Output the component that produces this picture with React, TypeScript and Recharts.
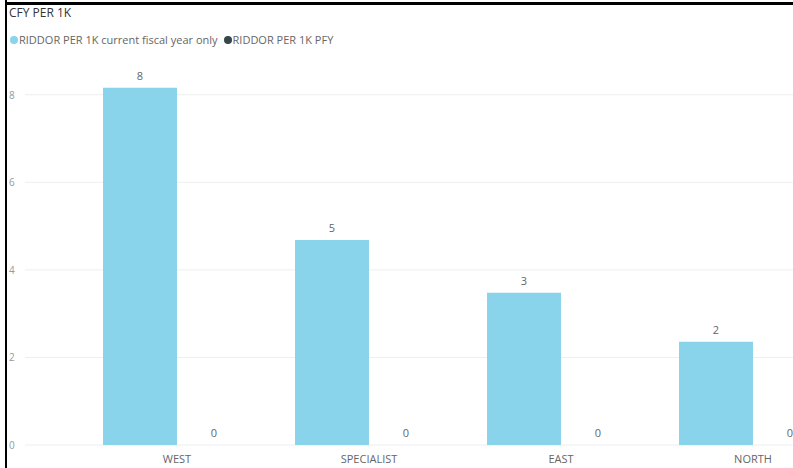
import { BarChart, Bar, XAxis, YAxis, CartesianGrid, Legend, LabelList } from 'recharts';

const regions = ['WEST', 'SPECIALIST', 'EAST', 'NORTH'];
const currentYear = [8.16, 4.68, 3.48, 2.36];
const priorYear = [0, 0, 0, 0];
const yTicks = [0, 2, 4, 6, 8];

const data = regions.map((region, i) => ({
  region,
  cfy: currentYear[i],
  pfy: priorYear[i],
}));

const font = '"Open Sans", "DejaVu Sans", sans-serif';

const YTick = (props: any) => {
  const { y, payload } = props;
  return (
    <text x={9} y={y} dy={4} fill="#999" fontSize={10} fontFamily={font}>
      {payload.value}
    </text>
  );
};

const LegendContent = (props: any) => {
  const items = [...(props.payload || [])].sort(
    (a: any, b: any) => (a.dataKey === 'cfy' ? 0 : 1) - (b.dataKey === 'cfy' ? 0 : 1)
  );
  return (
    <div style={{ display: 'flex', alignItems: 'center', fontSize: 11, color: '#666', fontFamily: font }}>
      {items.map((item: any) => (
        <span key={item.value} style={{ display: 'flex', alignItems: 'center', marginRight: 6 }}>
          <span
            style={{
              width: 8,
              height: 8,
              borderRadius: 4,
              background: item.color,
              marginRight: 1,
              display: 'inline-block',
            }}
          />
          {item.value}
        </span>
      ))}
    </div>
  );
};

const roundLabel = (v: any) => Math.round(Number(v));

export default function App() {
  return (
    <div
      style={{
        position: 'absolute',
        left: 0,
        top: 0,
        width: 793,
        height: 468,
        overflow: 'hidden',
        background: '#fff',
        fontFamily: font,
      }}
    >
      <div style={{ position: 'absolute', left: 5, top: 0, width: 2, height: 468, background: '#000', zIndex: 3 }} />
      <div style={{ position: 'absolute', left: 5, top: 2, width: 788, height: 3, background: '#000', zIndex: 3 }} />
      <div
        style={{
          position: 'absolute',
          left: 9,
          top: 4,
          fontSize: 12,
          color: '#333',
          zIndex: 2,
        }}
      >
        CFY PER 1K
      </div>
      <BarChart
        width={849}
        height={468}
        data={data}
        margin={{ top: 36, right: 0, bottom: 0, left: 0 }}
        barCategoryGap={22}
        barGap={0}
      >
        <CartesianGrid vertical={false} stroke="#eeeeee" horizontalValues={yTicks} />
        <XAxis
          dataKey="region"
          padding={{ left: 56, right: 0 }}
          axisLine={false}
          tickLine={false}
          tick={{ fill: '#666', fontSize: 11, fontFamily: font }}
          tickMargin={4}
          height={23}
        />
        <YAxis
          width={25}
          domain={[0, 9]}
          ticks={yTicks}
          axisLine={false}
          tickLine={false}
          tick={<YTick />}
        />
        <Legend
          verticalAlign="top"
          align="left"
          content={<LegendContent />}
          wrapperStyle={{ position: 'absolute', top: 32, left: 10, width: 'auto' }}
        />
        <Bar dataKey="cfy" name="RIDDOR PER 1K current fiscal year only" fill="#8AD4EB" barSize={74} isAnimationActive={false}>
          <LabelList dataKey="cfy" position="top" offset={8} formatter={roundLabel} fill="#666" fontSize={11} fontFamily={font} />
        </Bar>
        <Bar
          dataKey="pfy"
          name="RIDDOR PER 1K PFY"
          fill="#374649"
          barSize={74}
          minPointSize={0.01}
          isAnimationActive={false}
        >
          <LabelList dataKey="pfy" position="top" offset={8} formatter={roundLabel} fill="#666" fontSize={11} fontFamily={font} />
        </Bar>
      </BarChart>
    </div>
  );
}
